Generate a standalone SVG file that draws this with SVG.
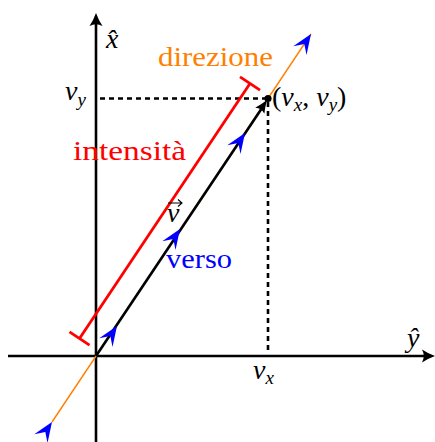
<svg xmlns="http://www.w3.org/2000/svg" xmlns:xlink="http://www.w3.org/1999/xlink" width="435" height="442" viewBox="0 0 435 442">
<style>
.m{font-style:italic}
.s{font-size:19px;font-style:italic}
.up{font-style:normal}
.axis{stroke:#000;stroke-width:2.6;fill:none}
.dash{stroke:#000;stroke-width:2.6;stroke-dasharray:5 4;fill:none}
</style>
<defs>
<path id="stealth" d="M0,0 L-20,-8 L-12,0 L-20,8 Z" fill="#0000ff"/>
<path id="axhead" d="M0,0 Q-7,-2.5 -13,-6.5 Q-9.5,0 -13,6.5 Q-7,2.5 0,0 Z" fill="#000"/>
<path id="vhead" d="M0,0 Q-7,-2.3 -13,-5.5 Q-9.5,0 -13,5.5 Q-7,2.3 0,0 Z" fill="#000"/>
</defs>
<rect width="435" height="442" fill="#fff"/>
<g id="connectors">
<line class="axis" x1="96" y1="442" x2="96" y2="20"/>
<use xlink:href="#axhead" transform="translate(96,13) rotate(-90)"/>
<line class="axis" x1="8" y1="356" x2="428" y2="356"/>
<use xlink:href="#axhead" transform="translate(435,356)"/>
<line class="dash" x1="100" y1="98.5" x2="266" y2="98.5"/>
<line class="dash" x1="268" y1="102" x2="268" y2="354"/>
<line x1="52" y1="422" x2="311" y2="34" stroke="#ff8000" stroke-width="1.4"/>
<line x1="79.5" y1="338.5" x2="250" y2="83.5" stroke="#ff0000" stroke-width="2.8"/>
<line x1="69.5" y1="331.8" x2="89.5" y2="345.2" stroke="#ff0000" stroke-width="2.8"/>
<line x1="240" y1="76.8" x2="260" y2="90.2" stroke="#ff0000" stroke-width="2.8"/>
<line x1="96" y1="356" x2="262" y2="108" stroke="#000" stroke-width="2.6"/>
<use xlink:href="#vhead" transform="translate(267,100) rotate(-56.2)"/>
<circle cx="268" cy="98.5" r="3.6" fill="#000"/>
<use xlink:href="#stealth" transform="translate(311,34) rotate(-56.2)"/>
<use xlink:href="#stealth" transform="translate(52,422) rotate(-56.2)"/>
<use xlink:href="#stealth" transform="translate(117,326) rotate(-56.2)"/>
<use xlink:href="#stealth" transform="translate(180,229) rotate(-56.2)"/>
<use xlink:href="#stealth" transform="translate(245,133) rotate(-56.2)"/>
</g>
<g font-family="Liberation Serif, Times New Roman, serif" font-size="28">
<g id="label-xhat"><text class="m" x="106" y="48">x̂</text></g>
<g id="label-yhat"><text class="m" x="407" y="347">ŷ</text></g>
<g id="label-direzione"><text x="158" y="66" fill="#ff8000" textLength="115" lengthAdjust="spacingAndGlyphs">direzione</text></g>
<g id="label-intensita"><text x="73" y="160" fill="#ff0000" textLength="113" lengthAdjust="spacingAndGlyphs">intensità</text></g>
<g id="label-verso"><text x="166" y="268" fill="#0000ff" textLength="66" lengthAdjust="spacingAndGlyphs">verso</text></g>
<g id="label-v"><text class="m" x="167" y="222">v</text><path d="M168,203 H182 M178,199.5 L182,203 L178,206.5" stroke="#000" stroke-width="1.1" fill="none"/></g>
<g id="label-vy"><text class="m" x="65" y="100">v<tspan class="s" dy="6">y</tspan></text></g>
<g id="label-vx"><text class="m" x="253" y="379">v<tspan class="s" dy="5">x</tspan></text></g>
<g id="label-point"><text class="m" x="272" y="106"><tspan class="up">(</tspan>v<tspan class="s" dy="5">x</tspan><tspan class="up" dy="-5">, </tspan>v<tspan class="s" dy="5">y</tspan><tspan class="up" dy="-5">)</tspan></text></g>
</g>
</svg>
